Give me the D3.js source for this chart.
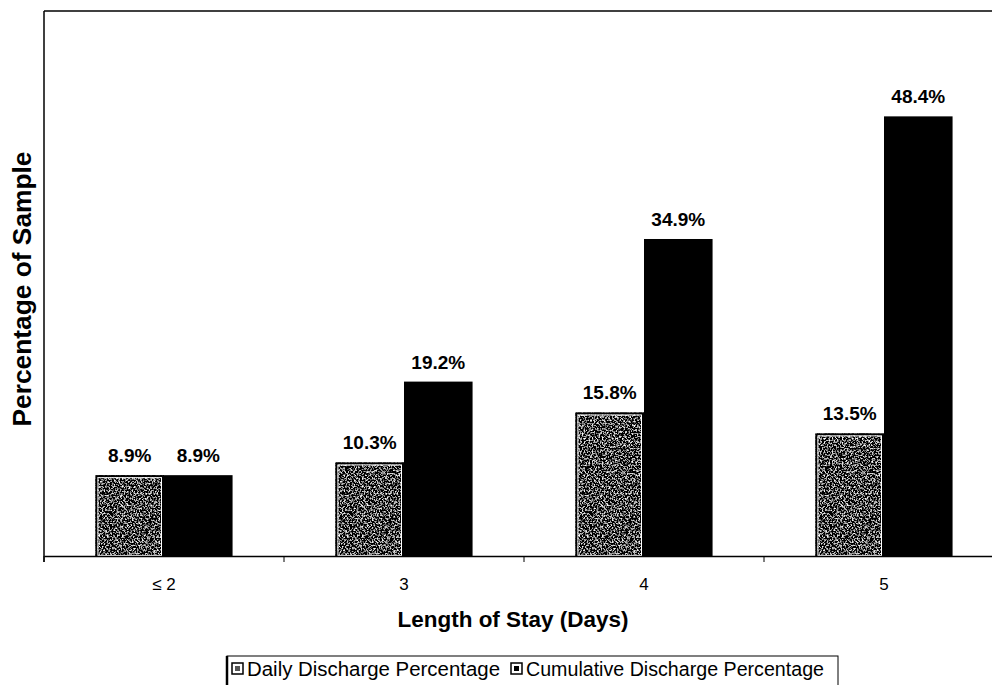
<!DOCTYPE html>
<html><head><meta charset="utf-8">
<script src="https://cdn.jsdelivr.net/npm/d3@7"></script>
<style>body{margin:0;background:#fff;overflow:hidden}svg{display:block}</style>
</head><body>
<script>
const categories = ["\u2264 2", "3", "4", "5"];
const seriesNames = ["Daily Discharge Percentage", "Cumulative Discharge Percentage"];
const daily = [8.9, 10.3, 15.8, 13.5];
const cumulative = [8.9, 19.2, 34.9, 48.4];
const labelsDaily = ["8.9%", "10.3%", "15.8%", "13.5%"];
const labelsCum = ["8.9%", "19.2%", "34.9%", "48.4%"];

const W = 992, H = 685;
const m = {left: 44, top: 11, right: -12, bottom: 129};
const FONT = "Liberation Sans, Arial, sans-serif";
const svg = d3.select("body").append("svg").attr("width", W).attr("height", H);
const defs = svg.append("defs");
const f = defs.append("filter").attr("id","grain").attr("x",0).attr("y",0).attr("width",1).attr("height",1);
f.append("feTurbulence").attr("type","fractalNoise").attr("baseFrequency",0.6).attr("numOctaves",3).attr("seed",7).attr("result","n");
f.append("feColorMatrix").attr("in","n").attr("type","matrix")
 .attr("values","3.2 0 0 0 -1.55  3.2 0 0 0 -1.55  3.2 0 0 0 -1.55  0 0 0 0 1").attr("result","g");
f.append("feComposite").attr("in","g").attr("in2","SourceGraphic").attr("operator","in");

const x0 = d3.scaleBand().domain(categories).range([m.left, W - m.right]).padding(0);
const x1 = d3.scaleBand().domain(seriesNames).range([0, x0.bandwidth()]).paddingInner(0).paddingOuter(0.75);
const y = d3.scaleLinear().domain([0, 60]).range([H - m.bottom, m.top]);

const rows = categories.map((c,i)=>({c, vals:[
  {s:seriesNames[0], v:daily[i], l:labelsDaily[i]},
  {s:seriesNames[1], v:cumulative[i], l:labelsCum[i]}]}));

// frame top
svg.append("line").attr("x1",m.left).attr("x2",W - m.right).attr("y1",y(60)).attr("y2",y(60)).attr("stroke","#000").attr("stroke-width",1.5);

const g = svg.selectAll("g.cat").data(rows).join("g").attr("transform",d=>`translate(${x0(d.c)},0)`);
g.each(function(d){
  const gg = d3.select(this);
  d.vals.forEach((v,j)=>{
    const bx = x1(v.s), bw = x1.bandwidth(), by = y(v.v), bh = y(0)-y(v.v);
    if(j===0){
      gg.append("rect").attr("x",bx).attr("y",by).attr("width",bw).attr("height",bh).attr("fill","#888").attr("filter","url(#grain)");
      gg.append("rect").attr("x",bx+1).attr("y",by+1).attr("width",bw-2).attr("height",bh-1).attr("fill","none").attr("stroke","#000").attr("stroke-width",2);
      gg.append("rect").attr("x",bx+2.5).attr("y",by+2.5).attr("width",bw-5).attr("height",bh-3).attr("fill","none").attr("stroke","#fff").attr("stroke-width",1);
    } else {
      gg.append("rect").attr("x",bx).attr("y",by).attr("width",bw).attr("height",bh).attr("fill","#000");
    }
    gg.append("text").attr("x",bx+bw/2).attr("y",by-13).attr("text-anchor","middle")
      .attr("font-family",FONT).attr("font-weight","bold").attr("font-size",19).text(v.l);
  });
});

// axes
const xAxis = d3.axisBottom(x0).tickSize(0).tickPadding(22);
const ax = svg.append("g").attr("transform",`translate(0,${y(0)})`).call(xAxis);
ax.attr("font-size",17).attr("font-family",FONT);
ax.select(".domain").attr("stroke","#000").attr("stroke-width",1.5);
ax.selectAll("text").style("font-size","17px").attr("fill","#000");
svg.append("g").selectAll("line").data(categories).join("line")
  .attr("x1",d=>x0(d)).attr("x2",d=>x0(d)).attr("y1",y(0)).attr("y2",y(0)+6).attr("stroke","#000");
svg.append("line").attr("x1",m.left).attr("x2",m.left).attr("y1",y(60)).attr("y2",y(0)+6).attr("stroke","#000").attr("stroke-width",1.5);

svg.append("text").attr("x",513).attr("y",627).attr("text-anchor","middle")
  .attr("font-family",FONT).attr("font-weight","bold").attr("font-size",22)
  .attr("textLength",231).attr("lengthAdjust","spacingAndGlyphs").text("Length of Stay (Days)");
svg.append("text").attr("transform",`translate(31,289) rotate(-90)`).attr("text-anchor","middle")
  .attr("font-family",FONT).attr("font-weight","bold").attr("font-size",26)
  .attr("textLength",275).attr("lengthAdjust","spacingAndGlyphs").text("Percentage of Sample");

// legend
const lg = svg.append("g");
lg.append("rect").attr("x",227).attr("y",656).attr("width",611).attr("height",40).attr("fill","#fff").attr("stroke","#000").attr("stroke-width",1);
lg.append("line").attr("x1",227).attr("x2",227).attr("y1",656).attr("y2",685).attr("stroke","#000").attr("stroke-width",2.5);
const items = [{s:seriesNames[0], x:232, w:253}, {s:seriesNames[1], x:511, w:298}];
items.forEach((it,i)=>{
  lg.append("rect").attr("x",it.x).attr("y",663).attr("width",11).attr("height",11).attr("fill","#fff").attr("stroke","#000").attr("stroke-width",1.5);
  lg.append("rect").attr("x",it.x+3).attr("y",666).attr("width",5).attr("height",5).attr("fill",i===0?"#555":"#000");
  lg.append("text").attr("x",it.x+15).attr("y",676).attr("font-family",FONT).attr("font-size",20)
    .attr("textLength",it.w).attr("lengthAdjust","spacingAndGlyphs").text(it.s);
});
</script>
</body></html>
